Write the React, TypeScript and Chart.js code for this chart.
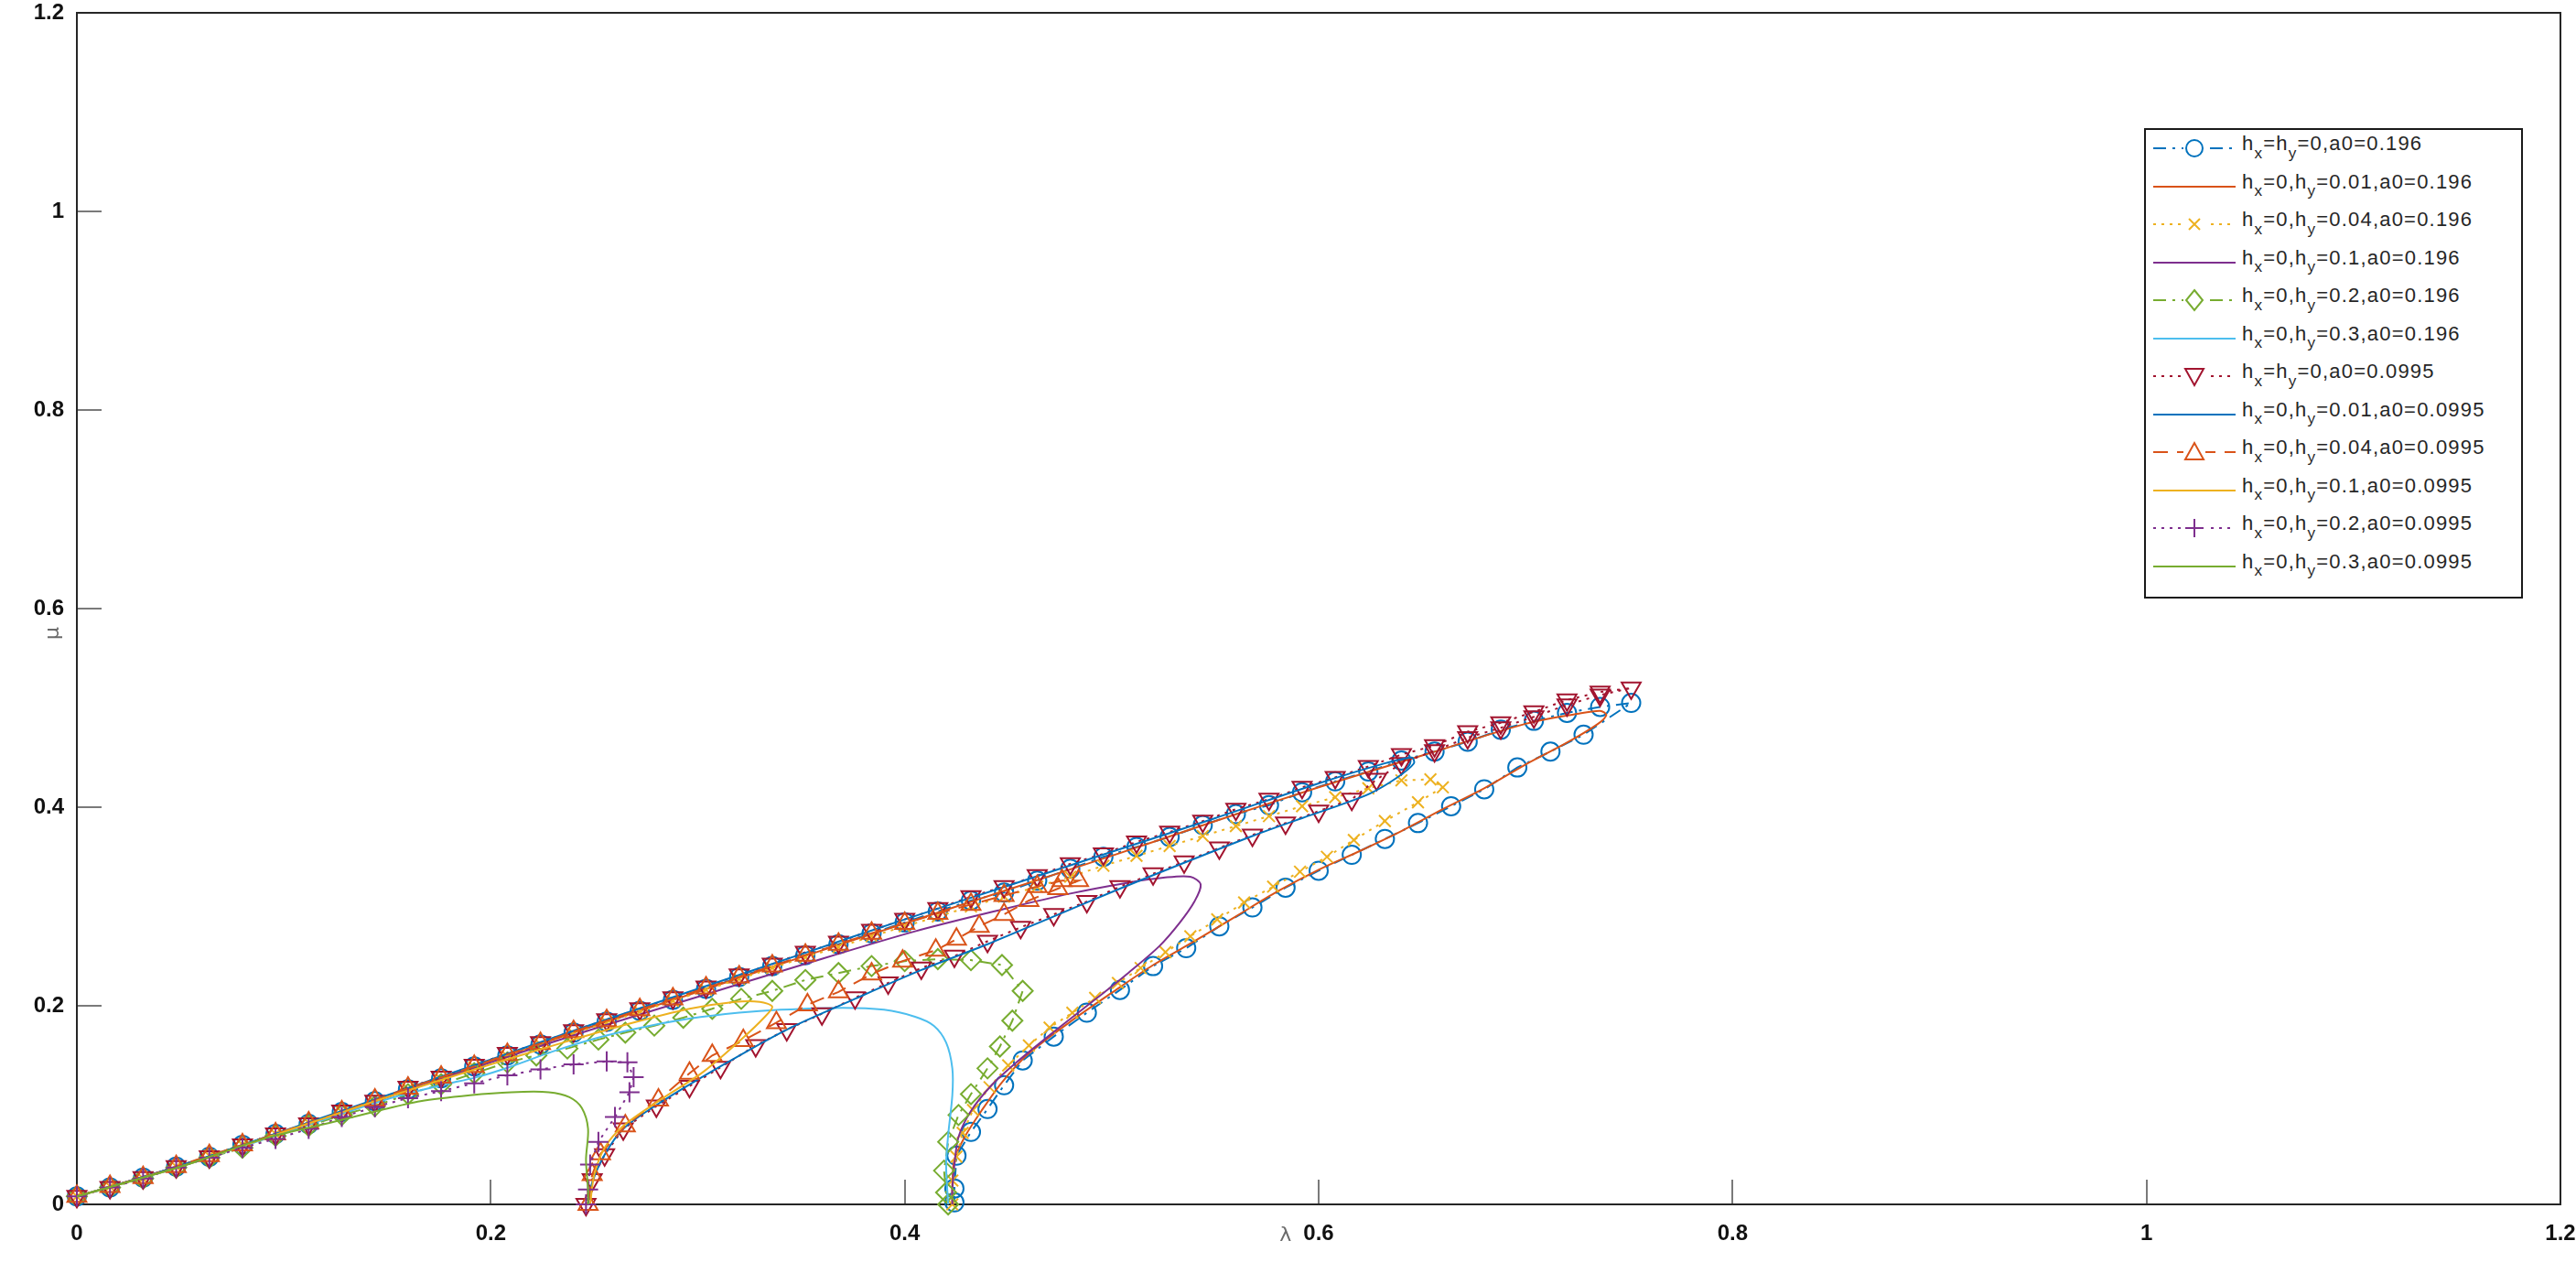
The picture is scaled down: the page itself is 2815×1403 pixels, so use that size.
import React, { useEffect, useRef } from "react";
import { Chart, registerables } from "chart.js";

Chart.register(...registerables);

// ---------- data (λ, μ) ----------
const xTickValues = [0, 0.2, 0.4, 0.6, 0.8, 1, 1.2];
const yTickValues = [0, 0.2, 0.4, 0.6, 0.8, 1, 1.2];

const seriesLabels = [
  "h_x=h_y=0,a0=0.196",
  "h_x=0,h_y=0.01,a0=0.196",
  "h_x=0,h_y=0.04,a0=0.196",
  "h_x=0,h_y=0.1,a0=0.196",
  "h_x=0,h_y=0.2,a0=0.196",
  "h_x=0,h_y=0.3,a0=0.196",
  "h_x=h_y=0,a0=0.0995",
  "h_x=0,h_y=0.01,a0=0.0995",
  "h_x=0,h_y=0.04,a0=0.0995",
  "h_x=0,h_y=0.1,a0=0.0995",
  "h_x=0,h_y=0.2,a0=0.0995",
  "h_x=0,h_y=0.3,a0=0.0995",
];

const s1: [number, number][] = [
  [0, 0.008], [0.016, 0.017], [0.032, 0.027], [0.048, 0.038], [0.064, 0.048], [0.08, 0.06], [0.096, 0.071], [0.112, 0.081],
  [0.128, 0.093], [0.144, 0.104], [0.16, 0.116], [0.176, 0.127], [0.192, 0.139], [0.208, 0.15], [0.224, 0.161], [0.24, 0.173],
  [0.256, 0.184], [0.272, 0.195], [0.288, 0.206], [0.304, 0.217], [0.32, 0.229], [0.336, 0.24], [0.352, 0.251], [0.368, 0.262],
  [0.384, 0.273], [0.4, 0.284], [0.416, 0.295], [0.432, 0.306], [0.448, 0.314], [0.464, 0.326], [0.48, 0.338], [0.496, 0.35],
  [0.512, 0.36], [0.528, 0.37], [0.544, 0.382], [0.56, 0.393], [0.576, 0.402], [0.592, 0.415], [0.608, 0.426], [0.624, 0.436],
  [0.64, 0.447], [0.656, 0.456], [0.672, 0.466], [0.688, 0.478], [0.704, 0.487], [0.72, 0.495], [0.736, 0.501], [0.751, 0.505],
  [0.728, 0.473], [0.712, 0.456], [0.696, 0.44], [0.68, 0.418], [0.664, 0.401], [0.648, 0.384], [0.632, 0.368], [0.616, 0.352],
  [0.6, 0.336], [0.584, 0.319], [0.568, 0.299], [0.552, 0.28], [0.536, 0.258], [0.52, 0.24], [0.504, 0.216], [0.488, 0.193],
  [0.472, 0.169], [0.457, 0.145], [0.448, 0.12], [0.44, 0.096], [0.432, 0.073], [0.425, 0.049], [0.424, 0.016], [0.424, 0.002],
];

const s2: [number, number][] = [
  [0, 0.008], [0.05, 0.039], [0.1, 0.073], [0.15, 0.108], [0.2, 0.144], [0.25, 0.18], [0.3, 0.214], [0.35, 0.249],
  [0.4, 0.283], [0.45, 0.317], [0.5, 0.351], [0.55, 0.386], [0.6, 0.42], [0.65, 0.452], [0.7, 0.484], [0.725, 0.494],
  [0.736, 0.497], [0.739, 0.493], [0.735, 0.484], [0.72, 0.465], [0.7, 0.443], [0.68, 0.419], [0.66, 0.398], [0.64, 0.376],
  [0.62, 0.356], [0.6, 0.337], [0.58, 0.315], [0.56, 0.29], [0.54, 0.265], [0.52, 0.241], [0.5, 0.213], [0.48, 0.184],
  [0.46, 0.152], [0.447, 0.123], [0.437, 0.094], [0.429, 0.068], [0.424, 0.045], [0.423, 0.02], [0.423, 0],
];

const s3: [number, number][] = [
  [0, 0.008], [0.016, 0.018], [0.032, 0.026], [0.048, 0.038], [0.064, 0.049], [0.08, 0.06], [0.096, 0.071], [0.112, 0.082],
  [0.128, 0.093], [0.144, 0.103], [0.16, 0.116], [0.176, 0.126], [0.192, 0.138], [0.208, 0.149], [0.224, 0.161], [0.24, 0.172],
  [0.256, 0.183], [0.272, 0.194], [0.288, 0.205], [0.304, 0.216], [0.32, 0.227], [0.336, 0.238], [0.352, 0.249], [0.368, 0.259],
  [0.384, 0.27], [0.4, 0.28], [0.416, 0.29], [0.432, 0.3], [0.448, 0.31], [0.464, 0.32], [0.48, 0.33], [0.496, 0.341],
  [0.512, 0.351], [0.528, 0.361], [0.544, 0.371], [0.56, 0.381], [0.576, 0.391], [0.592, 0.401], [0.608, 0.41], [0.624, 0.419],
  [0.64, 0.427], [0.654, 0.428], [0.66, 0.42], [0.648, 0.405], [0.632, 0.386], [0.617, 0.367], [0.604, 0.35], [0.591, 0.335],
  [0.578, 0.32], [0.564, 0.304], [0.551, 0.287], [0.538, 0.27], [0.526, 0.254], [0.514, 0.238], [0.503, 0.223], [0.492, 0.208],
  [0.481, 0.193], [0.47, 0.178], [0.46, 0.16], [0.45, 0.14], [0.441, 0.118], [0.433, 0.095], [0.428, 0.072], [0.425, 0.048],
  [0.423, 0.024], [0.423, 0],
];

const s4: [number, number][] = [
  [0, 0.008], [0.05, 0.039], [0.1, 0.073], [0.15, 0.108], [0.2, 0.143], [0.25, 0.177], [0.3, 0.209], [0.35, 0.241],
  [0.405, 0.275], [0.449, 0.298], [0.48, 0.313], [0.508, 0.324], [0.525, 0.329], [0.538, 0.33], [0.543, 0.322], [0.54, 0.305],
  [0.533, 0.284], [0.523, 0.26], [0.508, 0.233], [0.493, 0.208], [0.471, 0.172], [0.454, 0.143], [0.442, 0.12], [0.432, 0.094],
  [0.426, 0.068], [0.424, 0.04], [0.423, 0.015], [0.423, 0],
];

const s5: [number, number][] = [
  [0, 0.008], [0.016, 0.017], [0.032, 0.026], [0.048, 0.037], [0.064, 0.047], [0.08, 0.057], [0.096, 0.069], [0.112, 0.079],
  [0.128, 0.09], [0.144, 0.099], [0.16, 0.111], [0.176, 0.121], [0.192, 0.132], [0.208, 0.143], [0.222, 0.15], [0.237, 0.157],
  [0.252, 0.166], [0.265, 0.173], [0.279, 0.18], [0.293, 0.188], [0.307, 0.197], [0.321, 0.207], [0.336, 0.215], [0.352, 0.226],
  [0.368, 0.233], [0.384, 0.24], [0.4, 0.245], [0.416, 0.247], [0.432, 0.246], [0.447, 0.241], [0.457, 0.215], [0.452, 0.185],
  [0.446, 0.159], [0.44, 0.137], [0.432, 0.111], [0.426, 0.09], [0.421, 0.063], [0.419, 0.034], [0.42, 0.012], [0.421, 0],
];

const s6: [number, number][] = [
  [0, 0.008], [0.05, 0.038], [0.1, 0.072], [0.15, 0.106], [0.176, 0.12], [0.193, 0.128], [0.21, 0.139], [0.23, 0.154],
  [0.252, 0.168], [0.275, 0.179], [0.296, 0.187], [0.32, 0.193], [0.34, 0.196], [0.37, 0.198], [0.39, 0.196], [0.405, 0.189],
  [0.414, 0.18], [0.42, 0.163], [0.423, 0.137], [0.423, 0.11], [0.421, 0.07], [0.42, 0.04], [0.421, 0],
];

const s7: [number, number][] = [
  [0, 0.008], [0.016, 0.017], [0.032, 0.027], [0.048, 0.038], [0.064, 0.048], [0.08, 0.06], [0.096, 0.071], [0.112, 0.081],
  [0.128, 0.094], [0.144, 0.104], [0.16, 0.118], [0.176, 0.128], [0.192, 0.14], [0.208, 0.152], [0.224, 0.163], [0.24, 0.175],
  [0.256, 0.186], [0.272, 0.197], [0.288, 0.208], [0.304, 0.219], [0.32, 0.231], [0.336, 0.242], [0.352, 0.254], [0.368, 0.264],
  [0.384, 0.276], [0.4, 0.287], [0.416, 0.298], [0.432, 0.31], [0.448, 0.32], [0.464, 0.331], [0.48, 0.343], [0.496, 0.353],
  [0.512, 0.365], [0.528, 0.375], [0.544, 0.386], [0.56, 0.398], [0.576, 0.408], [0.592, 0.42], [0.608, 0.43], [0.624, 0.441],
  [0.64, 0.453], [0.656, 0.462], [0.672, 0.476], [0.688, 0.485], [0.704, 0.496], [0.72, 0.508], [0.736, 0.516], [0.751, 0.52],
  [0.736, 0.513], [0.72, 0.503], [0.704, 0.491], [0.688, 0.48], [0.672, 0.47], [0.656, 0.457], [0.64, 0.444], [0.628, 0.428],
  [0.616, 0.408], [0.6, 0.396], [0.584, 0.384], [0.568, 0.372], [0.552, 0.359], [0.535, 0.345], [0.52, 0.333], [0.504, 0.32],
  [0.488, 0.305], [0.472, 0.292], [0.456, 0.279], [0.44, 0.265], [0.424, 0.25], [0.408, 0.238], [0.392, 0.223], [0.376, 0.208],
  [0.36, 0.192], [0.343, 0.176], [0.328, 0.16], [0.311, 0.138], [0.296, 0.119], [0.28, 0.099], [0.264, 0.076], [0.255, 0.05],
  [0.249, 0.025], [0.246, 0],
];

const s8: [number, number][] = [
  [0, 0.008], [0.05, 0.039], [0.1, 0.074], [0.15, 0.11], [0.2, 0.146], [0.25, 0.182], [0.3, 0.217], [0.35, 0.252],
  [0.4, 0.287], [0.45, 0.321], [0.5, 0.355], [0.55, 0.389], [0.6, 0.424], [0.63, 0.443], [0.645, 0.45], [0.646, 0.444],
  [0.638, 0.43], [0.625, 0.414], [0.61, 0.402], [0.592, 0.389], [0.568, 0.371], [0.535, 0.344], [0.504, 0.318], [0.472, 0.29],
  [0.44, 0.262], [0.408, 0.236], [0.376, 0.207], [0.343, 0.176], [0.311, 0.139], [0.28, 0.1], [0.264, 0.076], [0.255, 0.05],
  [0.249, 0.022], [0.247, 0],
];

const s9: [number, number][] = [
  [0, 0.008], [0.016, 0.018], [0.032, 0.027], [0.048, 0.038], [0.064, 0.049], [0.08, 0.06], [0.096, 0.071], [0.112, 0.082],
  [0.128, 0.093], [0.144, 0.105], [0.16, 0.117], [0.176, 0.128], [0.192, 0.139], [0.208, 0.151], [0.224, 0.162], [0.24, 0.174],
  [0.256, 0.185], [0.272, 0.196], [0.288, 0.207], [0.304, 0.218], [0.32, 0.229], [0.336, 0.24], [0.352, 0.251], [0.368, 0.262],
  [0.384, 0.273], [0.4, 0.283], [0.416, 0.293], [0.432, 0.302], [0.448, 0.311], [0.464, 0.32], [0.476, 0.326], [0.484, 0.326],
  [0.474, 0.318], [0.46, 0.306], [0.448, 0.292], [0.436, 0.28], [0.425, 0.267], [0.415, 0.256], [0.399, 0.245], [0.384, 0.232],
  [0.368, 0.214], [0.353, 0.201], [0.338, 0.183], [0.322, 0.165], [0.307, 0.15], [0.296, 0.132], [0.281, 0.105], [0.265, 0.079],
  [0.253, 0.051], [0.249, 0.03], [0.247, 0],
];

const s10: [number, number][] = [
  [0, 0.008], [0.05, 0.038], [0.1, 0.073], [0.15, 0.108], [0.2, 0.141], [0.235, 0.163], [0.267, 0.182], [0.296, 0.197],
  [0.318, 0.204], [0.33, 0.204], [0.336, 0.199], [0.332, 0.188], [0.322, 0.168], [0.303, 0.134], [0.281, 0.104], [0.264, 0.079],
  [0.255, 0.057], [0.25, 0.03], [0.248, 0],
];

const s11: [number, number][] = [
  [0, 0.008], [0.016, 0.017], [0.032, 0.026], [0.048, 0.037], [0.064, 0.047], [0.08, 0.057], [0.096, 0.066], [0.112, 0.076],
  [0.128, 0.088], [0.144, 0.098], [0.16, 0.107], [0.176, 0.114], [0.192, 0.122], [0.208, 0.13], [0.224, 0.136], [0.24, 0.141],
  [0.256, 0.144], [0.266, 0.143], [0.269, 0.128], [0.267, 0.113], [0.26, 0.088], [0.252, 0.063], [0.248, 0.04], [0.247, 0.015],
  [0.246, 0],
];

const s12: [number, number][] = [
  [0, 0.008], [0.05, 0.038], [0.09, 0.066], [0.122, 0.082], [0.145, 0.094], [0.166, 0.104], [0.19, 0.11], [0.21, 0.113],
  [0.228, 0.113], [0.238, 0.108], [0.244, 0.097], [0.247, 0.076], [0.246, 0.045], [0.247, 0.015], [0.247, 0],
];

const seriesData = [s1, s2, s3, s4, s5, s6, s7, s8, s9, s10, s11, s12];

// ---------- styles ----------
type Marker = "none" | "circle" | "x" | "diamond" | "tdown" | "tup" | "plus";
type Dash = "solid" | "dashdot" | "dot" | "dash";
const seriesColors = [
  "#0072BD", "#D95319", "#EDB120", "#7E2F8E", "#77AC30", "#4DBEEE",
  "#A2142F", "#0072BD", "#D95319", "#EDB120", "#7E2F8E", "#77AC30",
];
const seriesDash: Dash[] = ["dashdot", "solid", "dot", "solid", "dashdot", "solid", "dot", "solid", "dash", "solid", "dot", "solid"];
const seriesMarker: Marker[] = ["circle", "none", "x", "none", "diamond", "none", "tdown", "none", "tup", "none", "plus", "none"];

const dashArrays: Record<Dash, number[]> = {
  solid: [],
  dashdot: [14, 7, 3, 7],
  dot: [3, 6],
  dash: [16, 10],
};

function pointStyleOf(m: Marker): any {
  switch (m) {
    case "circle": return "circle";
    case "x": return "crossRot";
    case "diamond": return "rectRot";
    case "tdown": return "triangle";
    case "tup": return "triangle";
    case "plus": return "cross";
    default: return "circle";
  }
}
function pointRadiusOf(m: Marker): number {
  switch (m) {
    case "circle": return 10;
    case "x": return 9;
    case "diamond": return 11;
    case "tdown": return 12;
    case "tup": return 12;
    case "plus": return 11;
    default: return 0;
  }
}

const FONT = "'Liberation Sans', Arial, sans-serif";

const axesPlugin = {
  id: "matlabAxes",
  beforeDatasetsDraw(chart: any) {
    const { ctx, chartArea: a, scales } = chart;
    const x = scales.x, y = scales.y;
    ctx.save();
    ctx.strokeStyle = "#7a7a7a";
    ctx.lineWidth = 2;
    xTickValues.forEach((v) => {
      const px = Math.round(x.getPixelForValue(v));
      ctx.beginPath();
      ctx.moveTo(px, a.bottom);
      ctx.lineTo(px, a.bottom - 27);
      ctx.stroke();
    });
    yTickValues.forEach((v) => {
      const py = Math.round(y.getPixelForValue(v));
      ctx.beginPath();
      ctx.moveTo(a.left, py);
      ctx.lineTo(a.left + 27, py);
      ctx.stroke();
    });
    ctx.strokeStyle = "#262626";
    ctx.lineWidth = 2;
    ctx.strokeRect(a.left, a.top, a.right - a.left, a.bottom - a.top);
    ctx.restore();
  },
  afterDraw(chart: any) {
    const { ctx, chartArea: a, scales } = chart;
    const x = scales.x, y = scales.y;
    ctx.save();
    ctx.fillStyle = "#6b6b6b";
    ctx.font = "22px 'DejaVu Sans', sans-serif";
    ctx.textAlign = "center";
    ctx.textBaseline = "middle";
    ctx.fillText("λ", x.getPixelForValue(0.584), a.bottom + 34);
    ctx.translate(a.left - 26, y.getPixelForValue(0.575));
    ctx.rotate(-Math.PI / 2);
    ctx.fillText("μ", 0, 0);
    ctx.restore();
  },
};

function renderLabel(label: string) {
  const parts: React.ReactNode[] = [];
  let buf = "";
  for (let i = 0; i < label.length; i++) {
    if (label[i] === "_" && i + 1 < label.length) {
      if (buf) { parts.push(buf); buf = ""; }
      parts.push(
        <span key={i} style={{ fontSize: "0.78em", position: "relative", top: "0.5em" }}>{label[i + 1]}</span>
      );
      i++;
    } else buf += label[i];
  }
  if (buf) parts.push(buf);
  return parts;
}

function MarkerSvg({ m, color }: { m: Marker; color: string }) {
  const cx = 45, cy = 20;
  const common = { fill: "none", stroke: color, strokeWidth: 2 };
  switch (m) {
    case "circle": return <circle cx={cx} cy={cy} r={9} {...common} />;
    case "x": return <path d={`M${cx - 6} ${cy - 6}L${cx + 6} ${cy + 6}M${cx - 6} ${cy + 6}L${cx + 6} ${cy - 6}`} {...common} />;
    case "diamond": return <polygon points={`${cx},${cy - 11} ${cx + 9},${cy} ${cx},${cy + 11} ${cx - 9},${cy}`} {...common} />;
    case "tdown": return <polygon points={`${cx - 10},${cy - 8} ${cx + 10},${cy - 8} ${cx},${cy + 10}`} {...common} />;
    case "tup": return <polygon points={`${cx - 10},${cy + 8} ${cx + 10},${cy + 8} ${cx},${cy - 10}`} {...common} />;
    case "plus": return <path d={`M${cx - 10} ${cy}L${cx + 10} ${cy}M${cx} ${cy - 10}L${cx} ${cy + 10}`} {...common} />;
    default: return null;
  }
}

function Legend() {
  return (
    <div
      style={{
        position: "absolute", left: 2343, top: 140, width: 410, height: 510,
        border: "2px solid #1a1a1a", background: "#fff", fontFamily: FONT,
        fontSize: 22, color: "#262626",
      }}
    >
      {seriesLabels.map((lab, i) => (
        <div key={i} style={{ position: "absolute", left: 0, top: 0 + i * 41.5, height: 41, width: "100%" }}>
          <svg width={92} height={41} style={{ position: "absolute", left: 8, top: 0 }}>
            <line x1={0} y1={20} x2={90} y2={20} stroke={seriesColors[i]} strokeWidth={2}
              strokeDasharray={dashArrays[seriesDash[i]].length ? dashArrays[seriesDash[i]].join(",") : undefined} />
            {seriesMarker[i] !== "none" && (
              <rect x={33} y={8} width={24} height={24} fill="#fff" />
            )}
            <MarkerSvg m={seriesMarker[i]} color={seriesColors[i]} />
          </svg>
          <div style={{ position: "absolute", left: 105, top: 3, whiteSpace: "nowrap", letterSpacing: "1.2px", lineHeight: "24px" }}>
            {renderLabel(lab)}
          </div>
        </div>
      ))}
    </div>
  );
}

export default function App() {
  const ref = useRef<HTMLCanvasElement>(null);
  useEffect(() => {
    document.body.style.margin = "0";
    const canvas = ref.current;
    if (!canvas) return;
    const datasets = seriesData.map((pts, i) => {
      const m = seriesMarker[i];
      return {
        label: seriesLabels[i],
        data: pts.map(([lx, my]) => ({ x: lx, y: my })),
        showLine: true,
        borderColor: seriesColors[i],
        borderWidth: 2,
        borderDash: dashArrays[seriesDash[i]],
        backgroundColor: "rgba(0,0,0,0)",
        pointStyle: pointStyleOf(m),
        rotation: m === "tdown" ? 180 : 0,
        pointRadius: pointRadiusOf(m),
        pointBorderColor: seriesColors[i],
        pointBackgroundColor: "rgba(0,0,0,0)",
        pointBorderWidth: 2,
        tension: m === "none" ? 0.3 : 0,
        clip: false as any,
        order: 11 - i,
      };
    });
    const chart = new Chart(canvas, {
      type: "scatter",
      data: { datasets },
      options: {
        responsive: false,
        animation: false,
        devicePixelRatio: 1,
        layout: { padding: { left: 0, top: 10, right: 17, bottom: 0 } },
        plugins: { legend: { display: false }, tooltip: { enabled: false } },
        scales: {
          x: {
            type: "linear",
            min: 0,
            max: 1.2,
            afterBuildTicks: (s: any) => { s.ticks = xTickValues.map((v) => ({ value: v })); },
            ticks: {
              font: { family: FONT, size: 24, weight: "bold" },
              color: "#111",
              padding: 18,
              maxRotation: 0,
              callback: (v: any) => String(Number(Number(v).toFixed(1))),
            },
            grid: { display: false, drawTicks: false },
            border: { display: false },
            afterFit: (s: any) => { s.height = 1403 - 1316; s.paddingLeft = 0; s.paddingRight = 0; },
          },
          y: {
            type: "linear",
            min: 0,
            max: 1.2,
            afterBuildTicks: (s: any) => { s.ticks = yTickValues.map((v) => ({ value: v })); },
            ticks: {
              font: { family: FONT, size: 24, weight: "bold" },
              color: "#111",
              padding: 14,
              callback: (v: any) => String(Number(Number(v).toFixed(1))),
            },
            grid: { display: false, drawTicks: false },
            border: { display: false },
            afterFit: (s: any) => { s.width = 84; s.paddingTop = 0; s.paddingBottom = 0; },
          },
        },
      },
      plugins: [axesPlugin],
    } as any);
    return () => chart.destroy();
  }, []);
  return (
    <div style={{ position: "absolute", left: 0, top: 0, width: 2815, height: 1403, background: "#fff", overflow: "hidden" }}>
      <canvas ref={ref} width={2815} height={1403} style={{ display: "block" }} />
      <Legend />
    </div>
  );
}
